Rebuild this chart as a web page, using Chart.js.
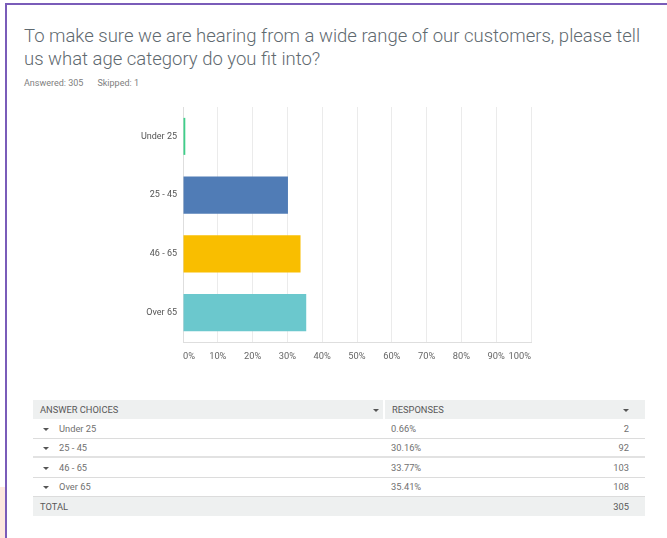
<!DOCTYPE html>
<html>
<head>
<meta charset="utf-8">
<script src="https://cdn.jsdelivr.net/npm/chart.js@4"></script>
<style>
  html, body { margin: 0; padding: 0; background: #fff; }
  body { width: 667px; height: 538px; position: relative; overflow: hidden; font-family: Roboto, "Open Sans", sans-serif; }
  .edge-v { position: absolute; left: 5px; top: 3px; width: 2px; height: 540px; background: #7a5cb9; }
  .edge-h { position: absolute; left: 5px; top: 3px; width: 670px; height: 2px; background: #7a5cb9; }
  .edge-tint { position: absolute; left: 0; top: 487px; width: 5px; height: 60px; background: #fde8df; }
  .title { position: absolute; left: 24px; top: 25px; width: 624px; font-size: 18.5px; font-weight: 300; line-height: 23px; color: #5f6a70; }
  .meta { position: absolute; left: 24px; top: 78px; font-size: 9px; color: #808080; }
  .meta span { margin-right: 14px; }
  .chart-box { position: absolute; left: 0; top: 95px; width: 667px; height: 280px; }
  table { position: absolute; left: 33px; top: 400px; width: 612px; border-collapse: collapse; font-size: 9.3px; color: #707070; }
  td { height: 18.5px; padding: 0; border-bottom: 1px solid #dcdcdc; }
  tr.head td { background: #eef0f0; color: #585858; border-bottom: none; height: 19px; }
  tr.total td { background: #eef0f0; color: #585858; border-bottom: none; height: 19px; }
  tr.thick td { border-bottom: 2px solid #e2e2e2; height: 17.5px; }
  .c1 { padding-left: 7px; width: 329px; }
  .c2 { width: 14px; text-align: center; border-right: 2px solid #fff; }
  .c3 { padding-left: 7px; }
  .c4 { text-align: right; padding-right: 16px; }
  .tri { display: inline-block; width: 0; height: 0; border-left: 3px solid transparent; border-right: 3px solid transparent; border-top: 3px solid #555; vertical-align: middle; }
  .rowtri { margin-left: 3px; margin-right: 10px; }
</style>
</head>
<body>
<div class="edge-tint"></div>
<div class="edge-v"></div>
<div class="edge-h"></div>

<div class="title">To make sure we are hearing from a wide range of our customers, please tell us what age category do you fit into?</div>
<div class="meta"><span>Answered: 305</span><span>Skipped: 1</span></div>

<div class="chart-box"><canvas id="chart"></canvas></div>

<table id="responses"></table>

<script>
// Survey answer choices and results
const categories = ['Under 25', '25 - 45', '46 - 65', 'Over 65'];
const percentages = [0.66, 30.16, 33.77, 35.41];
const counts = [2, 92, 103, 108];
const totalAnswered = 305;
const xTicks = [0, 10, 20, 30, 40, 50, 60, 70, 80, 90, 100];
const barColors = ['#3fcf8a', '#507cb6', '#f9be00', '#6bc8cd'];

// Results table below the chart
(function buildTable() {
  const t = document.getElementById('responses');
  let html = '<tr class="head"><td class="c1">ANSWER CHOICES</td><td class="c2"><span class="tri"></span></td>' +
             '<td class="c3">RESPONSES</td><td class="c4"><span class="tri"></span></td></tr>';
  categories.forEach((c, i) => {
    const cls = i === 1 ? ' class="thick"' : '';
    html += '<tr' + cls + '><td class="c1" colspan="2"><span class="tri rowtri"></span>' + c + '</td>' +
            '<td class="c3">' + percentages[i].toFixed(2) + '%</td><td class="c4">' + counts[i] + '</td></tr>';
  });
  html += '<tr class="total"><td class="c1" colspan="2">TOTAL</td><td class="c3"></td><td class="c4">' + totalAnswered + '</td></tr>';
  t.innerHTML = html;
})();

new Chart(document.getElementById('chart'), {
  type: 'bar',
  data: {
    labels: categories,
    datasets: [{
      data: percentages,
      backgroundColor: barColors,
      borderWidth: 0,
      categoryPercentage: 1,
      barPercentage: 0.63
    }]
  },
  options: {
    indexAxis: 'y',
    responsive: true,
    maintainAspectRatio: false,
    animation: false,
    layout: { padding: { top: 12, right: 136, bottom: 0, left: 0 } },
    plugins: { legend: { display: false }, tooltip: { enabled: false } },
    scales: {
      x: {
        min: 0, max: 100,
        afterBuildTicks: (s) => { s.ticks = xTicks.map(v => ({ value: v })); },
        afterFit: (s) => { s.height = 33; },
        grid: { color: '#ebebeb', lineWidth: 1, drawTicks: false },
        border: { color: '#dedede', width: 1 },
        ticks: {
          padding: 9,
          align: 'inner',
          color: '#666',
          font: { family: 'Roboto', size: 9.3 },
          maxRotation: 0,
          autoSkip: false,
          callback: (v) => v + '%'
        }
      },
      y: {
        afterFit: (s) => { s.width = 183; },
        grid: { display: false, drawTicks: false },
        border: { color: '#dedede', width: 1 },
        ticks: {
          padding: 6,
          color: '#555',
          font: { family: 'Roboto', size: 9 }
        }
      }
    }
  }
});
</script>
</body>
</html>
